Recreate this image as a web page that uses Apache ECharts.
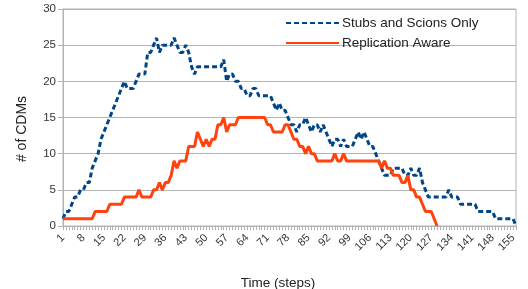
<!DOCTYPE html>
<html>
<head>
<meta charset="utf-8">
<script src="https://cdn.jsdelivr.net/npm/echarts@6/dist/echarts.min.js"></script>
<style>
  html, body { margin: 0; padding: 0; background: #fff; }
  #main { width: 528px; height: 289px; }
</style>
</head>
<body>
<div id="main"></div>
<script>
// time steps 1..156
var steps = [];
for (var i = 1; i <= 156; i++) steps.push(String(i));

var stubsScions = [
  1, 2, 2, 3, 4, 4, 5, 5, 6, 6,
  8, 9, 10, 12, 13, 14, 15, 16, 17, 18,
  19, 20, 19, 19, 19, 20, 21, 21, 21, 24,
  24, 25, 26, 24, 25, 25, 25, 25, 26, 25,
  24, 24, 25, 24, 22, 21, 22, 22, 22, 22,
  22, 22, 22, 22, 22, 23, 20, 21, 21, 20,
  20, 19, 19, 18, 18, 19, 19, 18, 18, 18,
  18, 18, 17, 16, 17, 16, 16, 15, 14, 14,
  13, 14, 14, 15, 14, 13, 14, 14, 13, 14,
  13, 12, 11, 12, 12, 11, 12, 11, 11, 11,
  12, 13, 12, 13, 12, 11, 11, 10, 9, 8,
  7, 7, 7, 8, 8, 8, 8, 7, 7, 8,
  7, 7, 8, 6, 5, 4, 4, 4, 4, 4,
  4, 4, 5, 4, 4, 4, 3, 3, 3, 3,
  3, 3, 2, 2, 2, 2, 2, 2, 1, 1,
  1, 1, 1, 1, 1, 0
];

var replicationAware = [
  1, 1, 1, 1, 1, 1, 1, 1, 1, 1,
  1, 2, 2, 2, 2, 2, 3, 3, 3, 3,
  3, 4, 4, 4, 4, 4, 5, 4, 4, 4,
  4, 5, 5, 6, 5, 6, 6, 7, 9, 8,
  9, 9, 9, 11, 11, 11, 13, 12, 11, 12,
  11, 12, 12, 14, 14, 15, 13, 14, 14, 14,
  15, 15, 15, 15, 15, 15, 15, 15, 15, 15,
  14, 14, 13, 13, 13, 13, 14, 14, 13, 12,
  12, 11, 11, 10, 11, 10, 10, 9, 9, 9,
  9, 9, 9, 10, 9, 9, 10, 9, 9, 9,
  9, 9, 9, 9, 9, 9, 9, 9, 9, 8,
  9, 8, 8, 7, 7, 7, 6, 6, 7, 5,
  5, 4, 4, 3, 2, 2, 2, 1, 0
];

var yTicks = [0, 5, 10, 15, 20, 25, 30];

var chart = echarts.init(document.getElementById('main'));

var option = {
  animation: false,
  textStyle: { fontFamily: 'Liberation Sans' },
  grid: {
    left: 63, right: 12, top: 9, bottom: 63,
    show: true, borderColor: '#b3b3b3', borderWidth: 1
  },
  legend: {
    orient: 'vertical',
    left: 280, top: 11,
    itemWidth: 53, itemHeight: 14, itemGap: 6,
    itemStyle: { opacity: 0 },
    textStyle: { fontSize: 13.5, color: '#222', padding: [0, 0, 0, -2] },
    data: ['Stubs and Scions Only', 'Replication Aware']
  },
  // axis titles placed where the reference has them
  graphic: [{
    type: 'text',
    x: 22, y: 129,
    rotation: Math.PI / 2,
    style: {
      text: '# of CDMs',
      fontFamily: 'Liberation Sans',
      fontSize: 14,
      fill: '#222',
      textAlign: 'center',
      textVerticalAlign: 'middle'
    }
  }, {
    type: 'text',
    x: 278, y: 283,
    style: {
      text: 'Time (steps)',
      fontFamily: 'Liberation Sans',
      fontSize: 13.5,
      fill: '#222',
      textAlign: 'center',
      textVerticalAlign: 'middle'
    }
  }],
  xAxis: {
    type: 'category',
    data: steps,
    boundaryGap: false,
    axisLine: { lineStyle: { color: '#b3b3b3' } },
    axisTick: { interval: 0, length: 4, lineStyle: { color: '#b3b3b3' } },
    axisLabel: { interval: 6, rotate: 45, fontSize: 11, color: '#333', margin: 10 },
    splitLine: { show: false }
  },
  yAxis: {
    type: 'value',
    min: yTicks[0], max: yTicks[yTicks.length - 1], interval: 5,
    axisLine: { show: true, lineStyle: { color: '#b3b3b3' } },
    axisTick: { show: true, length: 5, lineStyle: { color: '#b3b3b3' } },
    axisLabel: { fontSize: 11.5, color: '#333', margin: 7 },
    splitLine: { lineStyle: { color: '#b3b3b3' } }
  },
  series: [
    {
      name: 'Stubs and Scions Only',
      type: 'line',
      data: stubsScions,
      symbol: 'none',
      color: '#004586',
      lineStyle: { width: 3, type: [5, 3], color: '#004586' }
    },
    {
      name: 'Replication Aware',
      type: 'line',
      data: replicationAware,
      symbol: 'none',
      color: '#ff420e',
      lineStyle: { width: 3, color: '#ff420e' }
    }
  ]
};
chart.setOption(option);

window.addEventListener('resize', function () {
  chart.resize();
});
</script>
</body>
</html>
